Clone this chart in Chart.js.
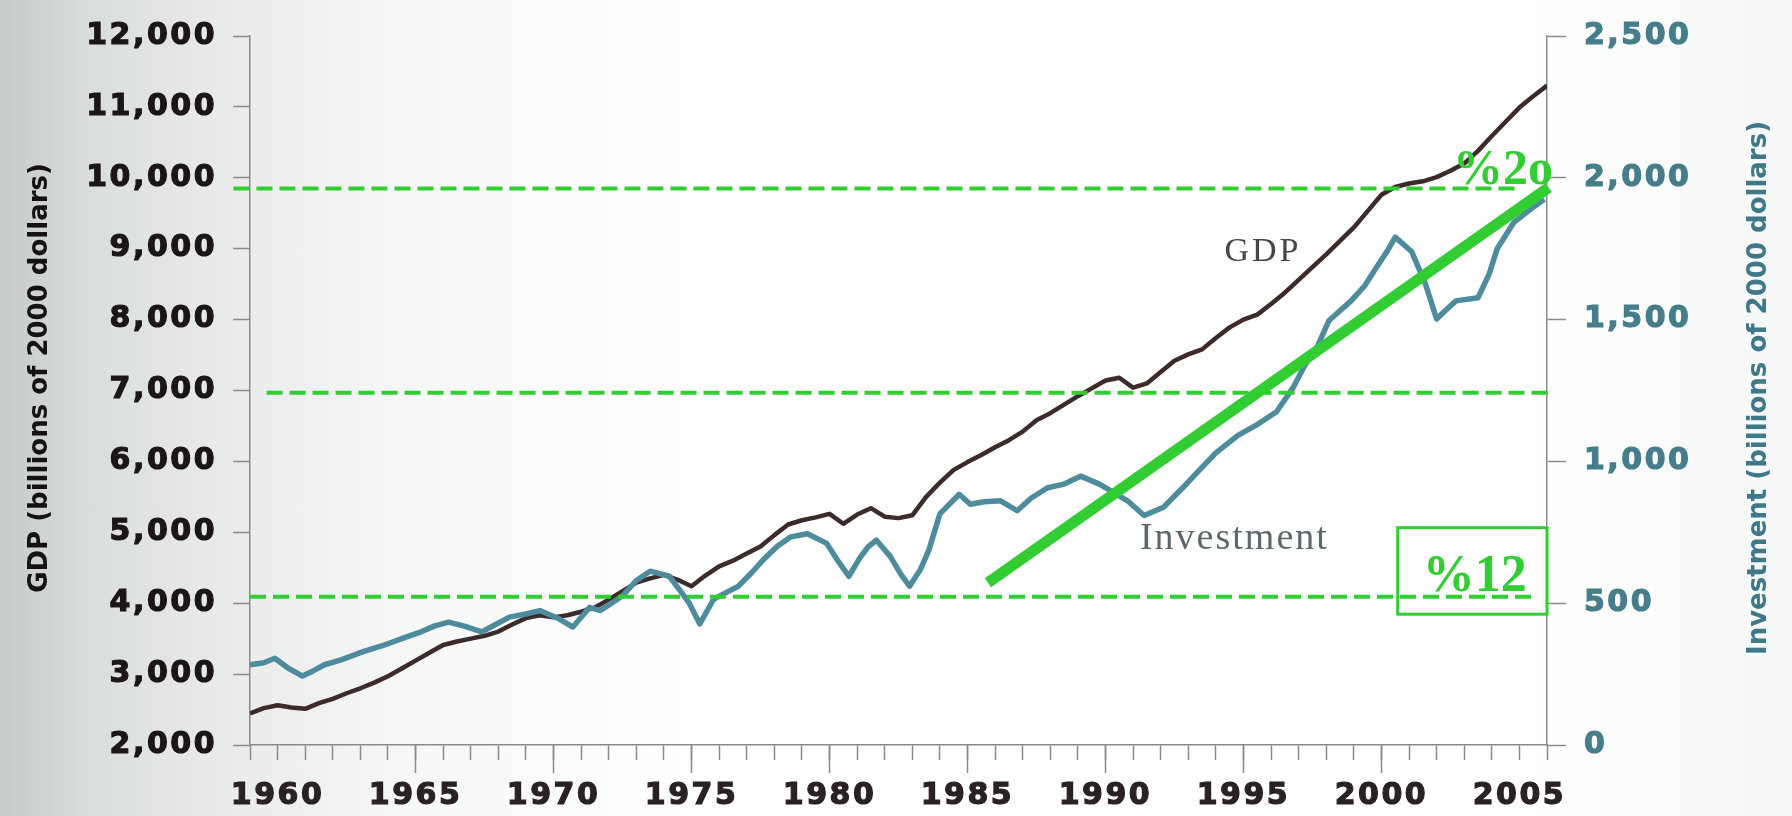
<!DOCTYPE html>
<html>
<head>
<meta charset="utf-8">
<script src="https://cdn.jsdelivr.net/npm/chart.js@4.4.1/dist/chart.umd.min.js"></script>
<style>
  html, body { margin: 0; padding: 0; }
  body {
    width: 1792px; height: 816px; overflow: hidden;
    background: linear-gradient(90deg, #c6caca 0px, #dadddd 90px, #eaecec 230px, #f7f8f8 430px, #ffffff 700px, #ffffff 1520px, #f6f7f7 1792px);
  }
</style>
</head>
<body>
<canvas id="chart" width="1792" height="816"></canvas>
<script>
// GDP, billions of 2000 dollars (left axis)
const gdpYears = [1959.0, 1959.5, 1960.0, 1960.5, 1961.0, 1961.5, 1962.0, 1962.5, 1963.0, 1963.5,
  1964.0, 1964.5, 1965.0, 1965.5, 1966.0, 1966.5, 1967.0, 1967.5, 1968.0, 1968.5,
  1969.0, 1969.5, 1970.0, 1970.5, 1971.0, 1971.5, 1972.0, 1972.5, 1973.0, 1973.5,
  1974.0, 1974.5, 1975.0, 1975.5, 1976.0, 1976.5, 1977.0, 1977.5, 1978.0, 1978.5,
  1979.0, 1979.5, 1980.0, 1980.5, 1981.0, 1981.5, 1982.0, 1982.5, 1983.0, 1983.5,
  1984.0, 1984.5, 1985.0, 1985.5, 1986.0, 1986.5, 1987.0, 1987.5, 1988.0, 1988.5,
  1989.0, 1989.5, 1990.0, 1990.5, 1991.0, 1991.5, 1992.0, 1992.5, 1993.0, 1993.5,
  1994.0, 1994.5, 1995.0, 1995.5, 1996.0, 1996.5, 1997.0, 1997.5, 1998.0, 1998.5,
  1999.0, 1999.5, 2000.0, 2000.5, 2001.0, 2001.5, 2002.0, 2002.5, 2003.0, 2003.5,
  2004.0, 2004.5, 2005.0, 2005.5, 2006.0];
const gdpValues = [2444, 2520, 2560, 2530, 2510, 2590, 2650, 2730, 2800, 2880,
  2970, 3080, 3190, 3300, 3410, 3460, 3500, 3540, 3600, 3700,
  3790, 3830, 3800, 3830, 3880, 3940, 4050, 4170, 4290, 4350,
  4400, 4330, 4240, 4390, 4520, 4600, 4700, 4800, 4960, 5110,
  5170, 5210, 5260, 5120, 5250, 5340, 5220, 5200, 5240, 5500,
  5700, 5880, 5990, 6090, 6200, 6300, 6420, 6580, 6680, 6800,
  6920, 7030, 7140, 7180, 7040, 7100, 7260, 7420, 7510, 7580,
  7740, 7890, 8000, 8070, 8220, 8380, 8560, 8740, 8920, 9110,
  9300, 9530, 9760, 9870, 9920, 9950, 10010, 10100, 10200, 10380,
  10590, 10790, 10990, 11150, 11300];

// Investment, billions of 2000 dollars (right axis)
const invYears = [1959.0, 1959.5, 1959.9, 1960.4, 1960.9, 1961.3, 1961.7, 1962.3, 1963.1, 1963.8,
  1964.5, 1965.2, 1965.7, 1966.2, 1966.8, 1967.4, 1967.9, 1968.4, 1969.0, 1969.5,
  1970.2, 1970.7, 1971.3, 1971.7, 1972.1, 1972.5, 1973.0, 1973.5, 1974.2, 1974.9,
  1975.3, 1975.8, 1976.3, 1976.7, 1977.2, 1977.6, 1978.1, 1978.6, 1979.2, 1979.9,
  1980.3, 1980.7, 1981.1, 1981.4, 1981.7, 1982.2, 1982.6, 1982.9, 1983.3, 1983.6,
  1984.0, 1984.7, 1985.1, 1985.6, 1986.2, 1986.8, 1987.3, 1987.9, 1988.5, 1989.1,
  1989.8, 1990.3, 1990.8, 1991.4, 1992.1, 1992.8, 1993.3, 1994.0, 1994.8, 1995.5,
  1996.2, 1996.8, 1997.2, 1997.7, 1998.1, 1998.9, 1999.4, 1999.8, 2000.2, 2000.5,
  2001.1, 2001.6, 2002.0, 2002.3, 2002.7, 2003.5, 2003.9, 2004.2, 2004.8, 2005.4, 2005.9];
const invValues = [283, 290, 306, 270, 243, 262, 283, 300, 329, 350,
  375, 399, 420, 433, 418, 399, 425, 451, 462, 474,
  445, 416, 485, 474, 500, 526, 580, 613, 595, 503,
  427, 514, 540, 560, 610, 653, 700, 734, 745, 711,
  650, 595, 660, 699, 722, 665, 600, 560, 620, 687,
  815, 884, 849, 858, 861, 826, 870, 907, 920, 948,
  919, 890, 861, 809, 838, 907, 959, 1030, 1092, 1130,
  1175, 1260, 1335, 1410, 1497, 1566, 1620, 1681, 1740, 1791,
  1739, 1624, 1502, 1530, 1566, 1577, 1660, 1751, 1843, 1889, 1924];

// tick labels
const gdpTickLabels = ['2,000', '3,000', '4,000', '5,000', '6,000', '7,000', '8,000', '9,000', '10,000', '11,000', '12,000'];
const invTickLabels = ['0', '500', '1,000', '1,500', '2,000', '2,500'];
const yearLabels = [1960, 1965, 1970, 1975, 1980, 1985, 1990, 1995, 2000, 2005];

// green markings drawn over the chart (left-axis values)
const dashLevels = [9850, 6970, 4090];
const dashFrom = [1958.4, 1959.6, 1959.0];
const dashTo = [2004.9, 2006.05, 2005.5];
const trendYears = [1985.74, 2006.06];
const trendValues = [4288, 9864];

const notes = [
  { text: 'GDP', year: 1994.31, value: 8824, font: '34px "Liberation Serif"', color: '#4a4445', spacing: '3px' },
  { text: 'Investment', year: 1991.25, value: 4760, font: '38px "Liberation Serif"', color: '#5d686c', spacing: '2px' },
  { text: '%2o', year: 2002.59, value: 9906, font: 'bold 50px "Liberation Serif"', color: '#32cd32', spacing: '0px' },
  { text: '%12', year: 2001.5, value: 4178, font: 'bold 52px "Liberation Serif"', color: '#32cd32', spacing: '0px' }
];
const noteBox = { from: 2000.59, to: 2006.0, top: 5065, bottom: 3845 };

const pairs = (xs, ys) => xs.map((x, i) => ({ x: x, y: ys[i] }));

const datasets = [];
dashLevels.forEach((lvl, i) => {
  datasets.push({
    data: [{ x: dashFrom[i], y: lvl }, { x: dashTo[i], y: lvl }],
    yAxisID: 'y', borderColor: '#32cd32', borderWidth: 4, borderDash: [16, 7],
    clip: false, order: 0
  });
});
datasets.push({
  data: pairs(trendYears, trendValues),
  yAxisID: 'y', borderColor: '#32cd32', borderWidth: 11, borderCapStyle: 'butt',
  clip: false, order: 0
});
datasets.push({
  label: 'GDP', data: pairs(gdpYears, gdpValues), yAxisID: 'y',
  borderColor: '#3d2a2a', borderWidth: 4.5, order: 2
});
datasets.push({
  label: 'Investment', data: pairs(invYears, invValues), yAxisID: 'y1',
  borderColor: '#4e8c9d', borderWidth: 5.5, order: 1
});

const axisGrey = '#8a8a8a';
const tickFont = { family: 'DejaVu Sans', weight: 'bold', size: 30 };

// wider tick lettering for the scales, plain spacing afterwards
const spacing = {
  id: 'spacing',
  beforeDraw(chart) { chart.ctx.letterSpacing = '2.5px'; },
  beforeDatasetsDraw(chart) { chart.ctx.letterSpacing = '0px'; }
};

const decor = {
  id: 'decor',
  afterDraw(chart) {
    const { ctx, scales: { x, y } } = chart;
    ctx.save();
    ctx.letterSpacing = '0px';
    ctx.textAlign = 'center';
    ctx.textBaseline = 'middle';
    ctx.font = 'bold 26px "DejaVu Sans"';

    ctx.save();
    ctx.translate(40, 378);
    ctx.rotate(-Math.PI / 2);
    ctx.fillStyle = '#161213';
    ctx.fillText('GDP (billions of 2000 dollars)', 0, 0);
    ctx.restore();

    ctx.save();
    ctx.translate(1759, 388);
    ctx.rotate(-Math.PI / 2);
    ctx.fillStyle = '#3f7888';
    ctx.fillText('Investment (billions of 2000 dollars)', 0, 0);
    ctx.restore();

    ctx.textAlign = 'left';
    ctx.textBaseline = 'alphabetic';
    notes.forEach(n => {
      ctx.font = n.font;
      ctx.fillStyle = n.color;
      ctx.letterSpacing = n.spacing;
      ctx.fillText(n.text, x.getPixelForValue(n.year), y.getPixelForValue(n.value));
    });

    const bx = x.getPixelForValue(noteBox.from);
    const by = y.getPixelForValue(noteBox.top);
    ctx.strokeStyle = '#32cd32';
    ctx.lineWidth = 3;
    ctx.strokeRect(bx, by, x.getPixelForValue(noteBox.to) - bx, y.getPixelForValue(noteBox.bottom) - by);
    ctx.restore();
  }
};

new Chart(document.getElementById('chart'), {
  type: 'line',
  data: { datasets: datasets },
  options: {
    responsive: false,
    animation: false,
    layout: { padding: { top: 24 } },
    plugins: { legend: { display: false }, tooltip: { enabled: false } },
    elements: {
      point: { radius: 0 },
      line: { tension: 0, borderJoinStyle: 'round', fill: false }
    },
    scales: {
      x: {
        type: 'linear', position: 'bottom', min: 1959, max: 2006,
        afterFit: s => { s.height = 71; },
        ticks: {
          stepSize: 1, autoSkip: false, maxRotation: 0, minRotation: 0, padding: 18,
          color: '#2a2123', font: tickFont, textStrokeColor: '#2a2123', textStrokeWidth: 1.2,
          callback: v => yearLabels.includes(v) ? String(v) : ''
        },
        grid: { drawOnChartArea: false, tickLength: 15, tickColor: axisGrey, tickWidth: 1.5 },
        border: { color: axisGrey, width: 1.5 }
      },
      x5: {
        type: 'linear', position: { y: 2000 }, min: 1959, max: 2006,
        afterBuildTicks: s => { s.ticks = s.ticks.filter(t => t.value % 5 === 0); },
        ticks: { display: false, stepSize: 5 },
        grid: { drawOnChartArea: false, tickLength: 28, tickColor: axisGrey, tickWidth: 1.5 },
        border: { display: false }
      },
      y: {
        type: 'linear', position: 'left', min: 2000, max: 12000,
        afterFit: s => { s.width = 250; },
        ticks: {
          stepSize: 1000, padding: 16, color: '#1b1517', font: tickFont,
          textStrokeColor: '#1b1517', textStrokeWidth: 1.2,
          callback: (v, i) => gdpTickLabels[i]
        },
        grid: { drawOnChartArea: false, tickLength: 17, tickColor: axisGrey, tickWidth: 1.5 },
        border: { color: axisGrey, width: 1.5 }
      },
      y1: {
        type: 'linear', position: 'right', min: 0, max: 2500,
        afterFit: s => { s.width = 245; },
        ticks: {
          stepSize: 500, padding: 18, color: '#457d8b', font: tickFont,
          textStrokeColor: '#457d8b', textStrokeWidth: 1.2,
          callback: (v, i) => invTickLabels[i]
        },
        grid: { drawOnChartArea: false, tickLength: 19, tickColor: axisGrey, tickWidth: 1.5 },
        border: { color: axisGrey, width: 1.5 }
      }
    }
  },
  plugins: [spacing, decor]
});
</script>
</body>
</html>
